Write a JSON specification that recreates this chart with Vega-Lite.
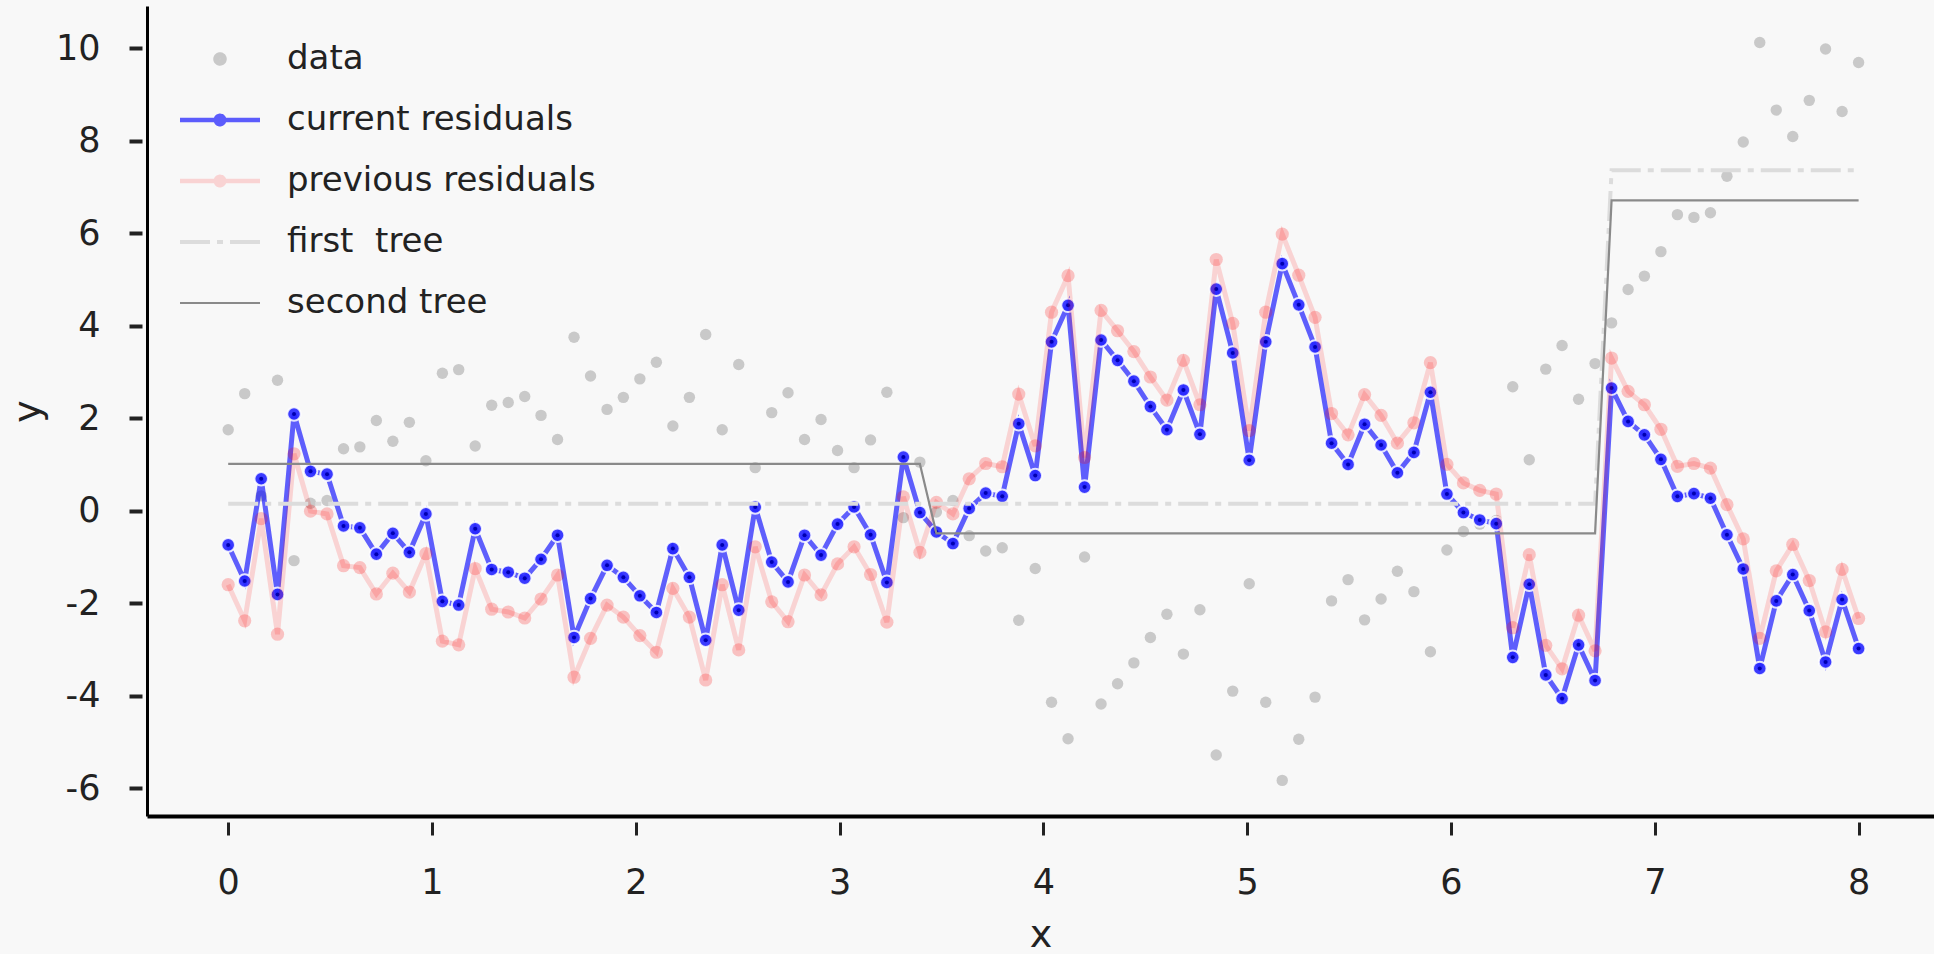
{
  "$schema": "https://vega.github.io/schema/vega-lite/v6.json",
  "width": 1787,
  "height": 810,
  "autosize": {"type": "none"},
  "padding": {"left": 147, "top": 6, "right": 0, "bottom": 138},
  "background": "#f8f8f8",
  "config": {
    "font": "DejaVu Sans",
    "view": {"stroke": null}
  },
  "data": {
    "values": [
      {"x": 0.000, "data": 1.75, "cur": -0.74, "prev": -1.60, "t1": 0.15, "t2": 1.01},
      {"x": 0.081, "data": 2.53, "cur": -1.52, "prev": -2.38, "t1": 0.15, "t2": 1.01},
      {"x": 0.162, "data": 0.32, "cur": 0.69, "prev": -0.17, "t1": 0.15, "t2": 1.01},
      {"x": 0.242, "data": 2.82, "cur": -1.81, "prev": -2.67, "t1": 0.15, "t2": 1.01},
      {"x": 0.323, "data": -1.08, "cur": 2.09, "prev": 1.23, "t1": 0.15, "t2": 1.01},
      {"x": 0.404, "data": 0.16, "cur": 0.85, "prev": -0.01, "t1": 0.15, "t2": 1.01},
      {"x": 0.485, "data": 0.22, "cur": 0.79, "prev": -0.07, "t1": 0.15, "t2": 1.01},
      {"x": 0.566, "data": 1.34, "cur": -0.33, "prev": -1.19, "t1": 0.15, "t2": 1.01},
      {"x": 0.646, "data": 1.38, "cur": -0.37, "prev": -1.23, "t1": 0.15, "t2": 1.01},
      {"x": 0.727, "data": 1.95, "cur": -0.94, "prev": -1.80, "t1": 0.15, "t2": 1.01},
      {"x": 0.808, "data": 1.50, "cur": -0.49, "prev": -1.35, "t1": 0.15, "t2": 1.01},
      {"x": 0.889, "data": 1.91, "cur": -0.90, "prev": -1.76, "t1": 0.15, "t2": 1.01},
      {"x": 0.970, "data": 1.08, "cur": -0.07, "prev": -0.93, "t1": 0.15, "t2": 1.01},
      {"x": 1.051, "data": 2.97, "cur": -1.96, "prev": -2.82, "t1": 0.15, "t2": 1.01},
      {"x": 1.131, "data": 3.05, "cur": -2.04, "prev": -2.90, "t1": 0.15, "t2": 1.01},
      {"x": 1.212, "data": 1.40, "cur": -0.39, "prev": -1.25, "t1": 0.15, "t2": 1.01},
      {"x": 1.293, "data": 2.28, "cur": -1.27, "prev": -2.13, "t1": 0.15, "t2": 1.01},
      {"x": 1.374, "data": 2.34, "cur": -1.33, "prev": -2.19, "t1": 0.15, "t2": 1.01},
      {"x": 1.455, "data": 2.47, "cur": -1.46, "prev": -2.32, "t1": 0.15, "t2": 1.01},
      {"x": 1.535, "data": 2.06, "cur": -1.05, "prev": -1.91, "t1": 0.15, "t2": 1.01},
      {"x": 1.616, "data": 1.54, "cur": -0.53, "prev": -1.39, "t1": 0.15, "t2": 1.01},
      {"x": 1.697, "data": 3.75, "cur": -2.74, "prev": -3.60, "t1": 0.15, "t2": 1.01},
      {"x": 1.778, "data": 2.91, "cur": -1.90, "prev": -2.76, "t1": 0.15, "t2": 1.01},
      {"x": 1.859, "data": 2.19, "cur": -1.18, "prev": -2.04, "t1": 0.15, "t2": 1.01},
      {"x": 1.939, "data": 2.45, "cur": -1.44, "prev": -2.30, "t1": 0.15, "t2": 1.01},
      {"x": 2.020, "data": 2.85, "cur": -1.84, "prev": -2.70, "t1": 0.15, "t2": 1.01},
      {"x": 2.101, "data": 3.21, "cur": -2.20, "prev": -3.06, "t1": 0.15, "t2": 1.01},
      {"x": 2.182, "data": 1.83, "cur": -0.82, "prev": -1.68, "t1": 0.15, "t2": 1.01},
      {"x": 2.263, "data": 2.45, "cur": -1.44, "prev": -2.30, "t1": 0.15, "t2": 1.01},
      {"x": 2.343, "data": 3.81, "cur": -2.80, "prev": -3.66, "t1": 0.15, "t2": 1.01},
      {"x": 2.424, "data": 1.75, "cur": -0.74, "prev": -1.60, "t1": 0.15, "t2": 1.01},
      {"x": 2.505, "data": 3.16, "cur": -2.15, "prev": -3.01, "t1": 0.15, "t2": 1.01},
      {"x": 2.586, "data": 0.93, "cur": 0.08, "prev": -0.78, "t1": 0.15, "t2": 1.01},
      {"x": 2.667, "data": 2.12, "cur": -1.11, "prev": -1.97, "t1": 0.15, "t2": 1.01},
      {"x": 2.747, "data": 2.55, "cur": -1.54, "prev": -2.40, "t1": 0.15, "t2": 1.01},
      {"x": 2.828, "data": 1.54, "cur": -0.53, "prev": -1.39, "t1": 0.15, "t2": 1.01},
      {"x": 2.909, "data": 1.97, "cur": -0.96, "prev": -1.82, "t1": 0.15, "t2": 1.01},
      {"x": 2.990, "data": 1.30, "cur": -0.29, "prev": -1.15, "t1": 0.15, "t2": 1.01},
      {"x": 3.071, "data": 0.93, "cur": 0.08, "prev": -0.78, "t1": 0.15, "t2": 1.01},
      {"x": 3.152, "data": 1.53, "cur": -0.52, "prev": -1.38, "t1": 0.15, "t2": 1.01},
      {"x": 3.232, "data": 2.56, "cur": -1.55, "prev": -2.41, "t1": 0.15, "t2": 1.01},
      {"x": 3.313, "data": -0.15, "cur": 1.16, "prev": 0.30, "t1": 0.15, "t2": 1.01},
      {"x": 3.394, "data": 1.05, "cur": -0.04, "prev": -0.90, "t1": 0.15, "t2": 1.01},
      {"x": 3.475, "data": -0.03, "cur": -0.46, "prev": 0.18, "t1": 0.15, "t2": -0.49},
      {"x": 3.556, "data": 0.22, "cur": -0.71, "prev": -0.07, "t1": 0.15, "t2": -0.49},
      {"x": 3.636, "data": -0.54, "cur": 0.05, "prev": 0.69, "t1": 0.15, "t2": -0.49},
      {"x": 3.717, "data": -0.87, "cur": 0.38, "prev": 1.02, "t1": 0.15, "t2": -0.49},
      {"x": 3.798, "data": -0.80, "cur": 0.31, "prev": 0.95, "t1": 0.15, "t2": -0.49},
      {"x": 3.879, "data": -2.37, "cur": 1.88, "prev": 2.52, "t1": 0.15, "t2": -0.49},
      {"x": 3.960, "data": -1.25, "cur": 0.76, "prev": 1.40, "t1": 0.15, "t2": -0.49},
      {"x": 4.040, "data": -4.14, "cur": 3.65, "prev": 4.29, "t1": 0.15, "t2": -0.49},
      {"x": 4.121, "data": -4.93, "cur": 4.44, "prev": 5.08, "t1": 0.15, "t2": -0.49},
      {"x": 4.202, "data": -1.00, "cur": 0.51, "prev": 1.15, "t1": 0.15, "t2": -0.49},
      {"x": 4.283, "data": -4.18, "cur": 3.69, "prev": 4.33, "t1": 0.15, "t2": -0.49},
      {"x": 4.364, "data": -3.74, "cur": 3.25, "prev": 3.89, "t1": 0.15, "t2": -0.49},
      {"x": 4.444, "data": -3.29, "cur": 2.80, "prev": 3.44, "t1": 0.15, "t2": -0.49},
      {"x": 4.525, "data": -2.74, "cur": 2.25, "prev": 2.89, "t1": 0.15, "t2": -0.49},
      {"x": 4.606, "data": -2.24, "cur": 1.75, "prev": 2.39, "t1": 0.15, "t2": -0.49},
      {"x": 4.687, "data": -3.10, "cur": 2.61, "prev": 3.25, "t1": 0.15, "t2": -0.49},
      {"x": 4.768, "data": -2.14, "cur": 1.65, "prev": 2.29, "t1": 0.15, "t2": -0.49},
      {"x": 4.848, "data": -5.28, "cur": 4.79, "prev": 5.43, "t1": 0.15, "t2": -0.49},
      {"x": 4.929, "data": -3.90, "cur": 3.41, "prev": 4.05, "t1": 0.15, "t2": -0.49},
      {"x": 5.010, "data": -1.58, "cur": 1.09, "prev": 1.73, "t1": 0.15, "t2": -0.49},
      {"x": 5.091, "data": -4.14, "cur": 3.65, "prev": 4.29, "t1": 0.15, "t2": -0.49},
      {"x": 5.172, "data": -5.83, "cur": 5.34, "prev": 5.98, "t1": 0.15, "t2": -0.49},
      {"x": 5.253, "data": -4.94, "cur": 4.45, "prev": 5.09, "t1": 0.15, "t2": -0.49},
      {"x": 5.333, "data": -4.03, "cur": 3.54, "prev": 4.18, "t1": 0.15, "t2": -0.49},
      {"x": 5.414, "data": -1.95, "cur": 1.46, "prev": 2.10, "t1": 0.15, "t2": -0.49},
      {"x": 5.495, "data": -1.49, "cur": 1.00, "prev": 1.64, "t1": 0.15, "t2": -0.49},
      {"x": 5.576, "data": -2.36, "cur": 1.87, "prev": 2.51, "t1": 0.15, "t2": -0.49},
      {"x": 5.657, "data": -1.91, "cur": 1.42, "prev": 2.06, "t1": 0.15, "t2": -0.49},
      {"x": 5.737, "data": -1.31, "cur": 0.82, "prev": 1.46, "t1": 0.15, "t2": -0.49},
      {"x": 5.818, "data": -1.75, "cur": 1.26, "prev": 1.90, "t1": 0.15, "t2": -0.49},
      {"x": 5.899, "data": -3.05, "cur": 2.56, "prev": 3.20, "t1": 0.15, "t2": -0.49},
      {"x": 5.980, "data": -0.85, "cur": 0.36, "prev": 1.00, "t1": 0.15, "t2": -0.49},
      {"x": 6.061, "data": -0.45, "cur": -0.04, "prev": 0.60, "t1": 0.15, "t2": -0.49},
      {"x": 6.141, "data": -0.29, "cur": -0.20, "prev": 0.44, "t1": 0.15, "t2": -0.49},
      {"x": 6.222, "data": -0.21, "cur": -0.28, "prev": 0.36, "t1": 0.15, "t2": -0.49},
      {"x": 6.303, "data": 2.68, "cur": -3.17, "prev": -2.53, "t1": 0.15, "t2": -0.49},
      {"x": 6.384, "data": 1.10, "cur": -1.59, "prev": -0.95, "t1": 0.15, "t2": -0.49},
      {"x": 6.465, "data": 3.06, "cur": -3.55, "prev": -2.91, "t1": 0.15, "t2": -0.49},
      {"x": 6.545, "data": 3.57, "cur": -4.06, "prev": -3.42, "t1": 0.15, "t2": -0.49},
      {"x": 6.626, "data": 2.41, "cur": -2.90, "prev": -2.26, "t1": 0.15, "t2": -0.49},
      {"x": 6.707, "data": 3.18, "cur": -3.67, "prev": -3.03, "t1": 0.15, "t2": -0.49},
      {"x": 6.788, "data": 4.06, "cur": 2.65, "prev": 3.30, "t1": 7.36, "t2": 6.71},
      {"x": 6.869, "data": 4.78, "cur": 1.93, "prev": 2.58, "t1": 7.36, "t2": 6.71},
      {"x": 6.949, "data": 5.07, "cur": 1.64, "prev": 2.29, "t1": 7.36, "t2": 6.71},
      {"x": 7.030, "data": 5.60, "cur": 1.11, "prev": 1.76, "t1": 7.36, "t2": 6.71},
      {"x": 7.111, "data": 6.40, "cur": 0.31, "prev": 0.96, "t1": 7.36, "t2": 6.71},
      {"x": 7.192, "data": 6.34, "cur": 0.37, "prev": 1.02, "t1": 7.36, "t2": 6.71},
      {"x": 7.273, "data": 6.44, "cur": 0.27, "prev": 0.92, "t1": 7.36, "t2": 6.71},
      {"x": 7.354, "data": 7.23, "cur": -0.52, "prev": 0.13, "t1": 7.36, "t2": 6.71},
      {"x": 7.434, "data": 7.97, "cur": -1.26, "prev": -0.61, "t1": 7.36, "t2": 6.71},
      {"x": 7.515, "data": 10.12, "cur": -3.41, "prev": -2.76, "t1": 7.36, "t2": 6.71},
      {"x": 7.596, "data": 8.66, "cur": -1.95, "prev": -1.30, "t1": 7.36, "t2": 6.71},
      {"x": 7.677, "data": 8.09, "cur": -1.38, "prev": -0.73, "t1": 7.36, "t2": 6.71},
      {"x": 7.758, "data": 8.87, "cur": -2.16, "prev": -1.51, "t1": 7.36, "t2": 6.71},
      {"x": 7.838, "data": 9.98, "cur": -3.27, "prev": -2.62, "t1": 7.36, "t2": 6.71},
      {"x": 7.919, "data": 8.63, "cur": -1.92, "prev": -1.27, "t1": 7.36, "t2": 6.71},
      {"x": 8.000, "data": 9.69, "cur": -2.98, "prev": -2.33, "t1": 7.36, "t2": 6.71}
    ]
  },
  "encoding": {
    "x": {
      "field": "x",
      "type": "quantitative",
      "title": "x",
      "scale": {"domain": [-0.3984, 8.37], "nice": false, "zero": false},
      "axis": {
        "values": [0, 1, 2, 3, 4, 5, 6, 7, 8],
        "format": "d",
        "grid": false,
        "domainColor": "#000000",
        "domainWidth": 4,
        "tickColor": "#222222",
        "tickWidth": 3,
        "tickSize": 19,
        "tickDash": [0, 6, 13, 40],
        "labelFont": "DejaVu Sans",
        "labelFontSize": 35,
        "labelColor": "#222222",
        "labelPadding": 30,
        "titleFont": "DejaVu Sans",
        "titleFontSize": 38,
        "titleFontWeight": "normal",
        "titleColor": "#222222",
        "titlePadding": 16
      }
    }
  },
  "layer": [
    {
      "mark": {"type": "point", "filled": true, "size": 130, "color": "#c9c9c9", "opacity": 1},
      "encoding": {
        "y": {
          "field": "data",
          "type": "quantitative",
          "title": "y",
          "scale": {"domain": [-6.6, 10.91], "nice": false, "zero": false},
          "axis": {
            "values": [-6, -4, -2, 0, 2, 4, 6, 8, 10],
            "grid": false,
            "labelExpr": "replace(datum.label, '\u2212', '-')",
            "domainColor": "#000000",
            "domainWidth": 3,
            "tickColor": "#222222",
            "tickWidth": 4,
            "tickSize": 18,
            "tickDash": [0, 5, 13, 40],
            "labelFont": "DejaVu Sans",
            "labelFontSize": 35,
            "labelColor": "#222222",
            "labelPadding": 29,
            "titleFont": "DejaVu Sans",
            "titleFontSize": 38,
            "titleFontWeight": "normal",
            "titleColor": "#222222",
            "titlePadding": 8
          }
        }
      }
    },
    {
      "mark": {"type": "line", "strokeWidth": 5, "color": "#0000ff", "opacity": 0.62},
      "encoding": {
        "y": {"field": "cur", "type": "quantitative", "title": "y"}
      }
    },
    {
      "mark": {"type": "point", "filled": true, "size": 185, "color": "#2626ff", "stroke": "#ffffff", "strokeWidth": 2, "fillOpacity": 0.9, "strokeOpacity": 0.85},
      "encoding": {
        "y": {"field": "cur", "type": "quantitative", "title": "y"}
      }
    },
    {
      "mark": {"type": "point", "filled": true, "size": 16, "color": "#0000b0", "opacity": 1},
      "encoding": {
        "y": {"field": "cur", "type": "quantitative", "title": "y"}
      }
    },
    {
      "mark": {"type": "line", "strokeWidth": 5, "color": "#ff0000", "opacity": 0.15},
      "encoding": {
        "y": {"field": "prev", "type": "quantitative", "title": "y"}
      }
    },
    {
      "mark": {"type": "point", "filled": true, "size": 175, "color": "#ff0000", "opacity": 0.22},
      "encoding": {
        "y": {"field": "prev", "type": "quantitative", "title": "y"}
      }
    },
    {
      "mark": {"type": "line", "strokeWidth": 4, "color": "#dcdcdc", "strokeDash": [30, 7, 6, 7]},
      "encoding": {
        "y": {"field": "t1", "type": "quantitative", "title": "y"}
      }
    },
    {
      "mark": {"type": "line", "strokeWidth": 2.2, "color": "#8a8a8a"},
      "encoding": {
        "y": {"field": "t2", "type": "quantitative", "title": "y"}
      }
    },
    {
      "transform": [{"fold": ["data", "cur", "prev", "t1", "t2"], "as": ["series", "v"]}],
      "mark": {"type": "point", "filled": false, "opacity": 0},
      "encoding": {
        "y": {"field": "v", "type": "quantitative", "title": "y"},
        "stroke": {
          "field": "series",
          "type": "nominal",
          "scale": {
            "domain": ["data", "cur", "prev", "t1", "t2"],
            "range": ["#c9c9c9", "#5c5cfc", "#f9d3d3", "#dcdcdc", "#8a8a8a"]
          },
          "legend": {
            "title": null,
            "orient": "none",
            "legendX": 56,
            "legendY": 36,
            "padding": 0,
            "symbolSize": 400,
            "symbolOpacity": 1,
            "symbolStrokeWidth": 4.5,
            "labelExpr": "{'data': 'data', 'cur': 'current residuals', 'prev': 'previous residuals', 't1': 'first\u00a0 tree', 't2': 'second tree'}[datum.label]",
            "labelFont": "DejaVu Sans",
            "labelFontSize": 34,
            "labelColor": "#222222",
            "labelOffset": 50,
            "labelLimit": 800,
            "rowPadding": 27
          }
        },
        "shape": {
          "field": "series",
          "type": "nominal",
          "scale": {
            "domain": ["data", "cur", "prev", "t1", "t2"],
            "range": [
              "M0.45,0A0.45,0.45 0 1,1 -0.45,0A0.45,0.45 0 1,1 0.45,0ZM0.2,0A0.2,0.2 0 1,1 -0.2,0A0.2,0.2 0 1,1 0.2,0Z",
              "M-4,0H4M0.42,0A0.42,0.42 0 1,1 -0.42,0A0.42,0.42 0 1,1 0.42,0ZM0.15,0A0.15,0.15 0 1,1 -0.15,0A0.15,0.15 0 1,1 0.15,0Z",
              "M-4,0H4M0.42,0A0.42,0.42 0 1,1 -0.42,0A0.42,0.42 0 1,1 0.42,0ZM0.15,0A0.15,0.15 0 1,1 -0.15,0A0.15,0.15 0 1,1 0.15,0Z",
              "M-4,0H4",
              "M-4,0H4"
            ]
          },
          "legend": {"title": null}
        },
        "strokeDash": {
          "field": "series",
          "type": "nominal",
          "scale": {
            "domain": ["data", "cur", "prev", "t1", "t2"],
            "range": [[1, 0], [1, 0], [1, 0], [30, 7, 6, 7], [1, 0]]
          },
          "legend": {"title": null}
        },
        "strokeWidth": {
          "field": "series",
          "type": "nominal",
          "scale": {
            "type": "ordinal",
            "domain": ["data", "cur", "prev", "t1", "t2"],
            "range": [4.5, 4.5, 4.5, 4, 2.2]
          },
          "legend": {"title": null}
        }
      }
    },
    {
      "data": {"values": [{}]},
      "mark": {"type": "rule", "color": "#000000", "strokeWidth": 3.5},
      "encoding": {
        "y": {"datum": 10.91, "type": "quantitative", "title": "y"}
      }
    }
  ]
}
